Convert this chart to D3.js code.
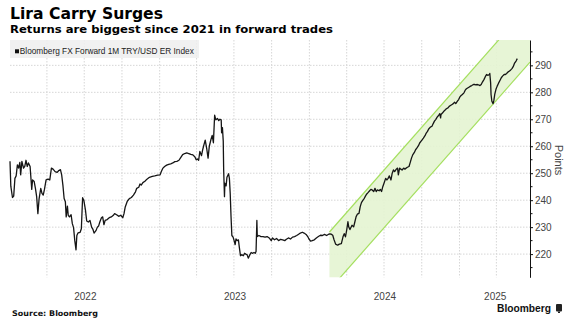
<!DOCTYPE html>
<html><head><meta charset="utf-8">
<script src="https://cdn.jsdelivr.net/npm/d3@7"></script>
<style>body{margin:0;background:#fff} svg{display:block}</style>
</head><body><svg id="c" width="577" height="327"></svg>
<script>
const title = "Lira Carry Surges";
const subtitle = "Returns are biggest since 2021 in forward trades";
const legendLabel = "Bloomberg FX Forward 1M TRY/USD ER Index";
const sourceText = "Source: Bloomberg";
const brandText = "Bloomberg";
const yAxisTitle = "Points";
const yTicks = [220, 230, 240, 250, 260, 270, 280, 290];
const yMinorTicks = [215, 225, 235, 245, 255, 265, 275, 285, 295];
const yearLabels = ["2022", "2023", "2024", "2025"];
const xDomain = ["2022-01-01", "2025-06-22"];
const yDomain = [211.4, 299.4];
const channelDates = ["2024-02-19", "2025-06-22"];
const channelUpper = [228.2, 312.6];
const channelLower = [206.8, 291.2];

const dates = [
"2022-01-01","2022-01-03","2022-01-07","2022-01-10","2022-01-13","2022-01-16","2022-01-19","2022-01-22","2022-01-25","2022-01-27",
"2022-01-30","2022-02-03","2022-02-06","2022-02-09","2022-02-12","2022-02-15","2022-02-19","2022-02-23","2022-02-25","2022-03-01",
"2022-03-04","2022-03-07","2022-03-10","2022-03-13","2022-03-17","2022-03-20","2022-03-23","2022-03-26","2022-03-30","2022-04-04",
"2022-04-08","2022-04-12","2022-04-16","2022-04-21","2022-04-26","2022-04-30","2022-05-04","2022-05-07","2022-05-10","2022-05-13",
"2022-05-16","2022-05-18","2022-05-21","2022-05-23","2022-05-26","2022-05-30","2022-06-02","2022-06-05","2022-06-08","2022-06-11",
"2022-06-13","2022-06-16","2022-06-21","2022-06-24","2022-06-27","2022-06-30","2022-07-04","2022-07-07","2022-07-11","2022-07-15",
"2022-07-19","2022-07-22","2022-07-25","2022-07-30","2022-08-02","2022-08-05","2022-08-08","2022-08-12","2022-08-15","2022-08-18",
"2022-08-21","2022-08-26","2022-08-31","2022-09-05","2022-09-10","2022-09-13",
"2022-09-18","2022-09-23","2022-09-28","2022-10-03","2022-10-06","2022-10-09","2022-10-14","2022-10-19","2022-10-24","2022-10-29",
"2022-11-03","2022-11-06","2022-11-11","2022-11-14","2022-11-17","2022-11-21","2022-11-26","2022-12-01","2022-12-07","2022-12-14",
"2022-12-20","2022-12-27","2023-01-02","2023-01-05","2023-01-09","2023-01-13","2023-01-18","2023-01-23","2023-01-28","2023-02-02",
"2023-02-07","2023-02-12","2023-02-17","2023-02-22","2023-02-26","2023-03-03","2023-03-08","2023-03-13","2023-03-18","2023-03-23",
"2023-03-28","2023-03-31","2023-04-03","2023-04-06","2023-04-09","2023-04-13","2023-04-16","2023-04-19","2023-04-22","2023-04-26",
"2023-04-29","2023-05-02","2023-05-06","2023-05-09","2023-05-12","2023-05-15","2023-05-18","2023-05-22","2023-05-25",
"2023-05-28","2023-05-31","2023-06-01","2023-06-03","2023-06-05","2023-06-06","2023-06-08","2023-06-09","2023-06-12","2023-06-14",
"2023-06-18","2023-06-20","2023-06-22","2023-06-24","2023-06-26","2023-06-29","2023-07-01","2023-07-04","2023-07-06","2023-07-09",
"2023-07-12","2023-07-14","2023-07-17","2023-07-20","2023-07-24","2023-07-27","2023-07-30","2023-08-02","2023-08-05","2023-08-09",
"2023-08-12","2023-08-15","2023-08-19","2023-08-22","2023-08-24","2023-08-26","2023-08-27","2023-08-31","2023-09-05","2023-09-10",
"2023-09-15","2023-09-20","2023-09-25","2023-09-30","2023-10-03","2023-10-08","2023-10-13","2023-10-18","2023-10-23","2023-10-28",
"2023-11-02","2023-11-06","2023-11-11","2023-11-16","2023-11-21","2023-11-26","2023-12-01","2023-12-05","2023-12-10","2023-12-15",
"2023-12-19","2023-12-24","2023-12-28","2023-12-31","2024-01-04","2024-01-08","2024-01-13","2024-01-18","2024-01-23","2024-01-28",
"2024-02-02","2024-02-07","2024-02-12","2024-02-16","2024-02-20",
"2024-02-23","2024-02-27","2024-03-01","2024-03-05","2024-03-10","2024-03-14","2024-03-19","2024-03-23","2024-03-26","2024-03-29",
"2024-04-01","2024-04-04","2024-04-06","2024-04-09","2024-04-14","2024-04-18","2024-04-21","2024-04-24","2024-04-27","2024-05-01",
"2024-05-04","2024-05-07","2024-05-10","2024-05-14","2024-05-17","2024-05-20","2024-05-23","2024-05-27","2024-05-30","2024-06-02",
"2024-06-06","2024-06-09","2024-06-12","2024-06-15","2024-06-19","2024-06-22","2024-06-25","2024-06-28","2024-07-01","2024-07-05",
"2024-07-08","2024-07-11","2024-07-14","2024-07-18","2024-07-21","2024-07-24","2024-07-27","2024-07-31","2024-08-03","2024-08-05",
"2024-08-08","2024-08-11","2024-08-14","2024-08-18","2024-08-21","2024-08-24","2024-08-27","2024-08-31","2024-09-03","2024-09-06",
"2024-09-09","2024-09-13","2024-09-16","2024-09-19","2024-09-23","2024-09-26","2024-09-29","2024-10-02","2024-10-05","2024-10-09",
"2024-10-12","2024-10-15","2024-10-18","2024-10-22",
"2024-10-26","2024-10-29","2024-11-01","2024-11-04","2024-11-08","2024-11-11","2024-11-14","2024-11-16","2024-11-17","2024-11-21",
"2024-11-24","2024-11-27","2024-11-30","2024-12-04","2024-12-07","2024-12-10","2024-12-14","2024-12-17","2024-12-20","2024-12-23",
"2024-12-27","2024-12-30","2025-01-02","2025-01-05","2025-01-08","2025-01-12","2025-01-15","2025-01-18","2025-01-22","2025-01-25",
"2025-01-28","2025-01-31","2025-02-04","2025-02-07","2025-02-10","2025-02-13","2025-02-16","2025-02-20","2025-02-23","2025-02-26",
"2025-03-02","2025-03-05","2025-03-08","2025-03-11","2025-03-15","2025-03-16","2025-03-18","2025-03-19","2025-03-21","2025-03-24",
"2025-03-26","2025-03-28","2025-03-31","2025-04-03","2025-04-06","2025-04-10","2025-04-13","2025-04-16","2025-04-20","2025-04-23",
"2025-04-26","2025-04-29","2025-05-03","2025-05-06","2025-05-09","2025-05-12","2025-05-15","2025-05-19","2025-05-22"
];
const values = [
254.4,245.2,241,241.5,248.1,249,253.1,251.9,254,249.4,
254.4,251.9,252.5,254.8,252.5,253.8,252.5,244,247.5,246.9,
244.4,241.3,235,240.6,244.4,242.5,241.9,244,247.5,247.8,
247.5,251.9,251.5,250.6,250.3,251,251.3,249.4,245.6,240.6,
239.4,233.8,237.8,234.4,233.8,234.6,231.3,229.8,225,221.6,
226.9,227.9,228.1,229.4,240.9,240,236.3,232.3,231.9,232.5,
230,229.3,227.8,228.8,230,230.4,231.9,233.5,233.8,230.9,
232.5,232.8,233.5,233.8,234.4,235,
234.6,234,234.4,233.5,235,237.5,239.6,240.6,241,241.9,
243.1,244.4,244.8,246,245.6,246.5,247,247.8,248.5,248.8,
249,249.3,249.4,250.6,251.9,252.5,253,253.3,253.5,253.8,
254.3,254.4,254.8,256,256.9,257.3,257.5,257.3,257,256.8,
256,255,255.3,254.8,258.1,256.5,258.8,260.6,262.3,258.8,
255.6,260,262.5,264,261.3,271.5,269.8,270.3,269.5,
270,269.8,265,266.9,261.9,251.3,241.3,246.3,245.3,248.5,
249.8,248.1,242.5,233.8,226.9,226.3,225.3,223.5,225.6,225,
225.3,222.8,219.4,219.8,219.4,220.3,220,219.8,218.5,219.8,
220.6,220.3,220.6,220.3,221,232.5,226.5,226.9,226.5,226.5,
226.3,226.5,226,225,226,225.3,225.8,225,225.5,225.3,
225,225.5,226,225.6,226.3,226.5,226.9,227.3,227.8,228.1,
227.8,227.3,226.5,225.6,224.8,225,225.3,226,226.5,227,
226.9,227.3,226.9,227.3,227.5,
227.4,227,225.4,223.7,223.3,223.7,223.9,226.4,227.6,226.4,
228.9,232,230.1,229.1,230.7,230.1,232,233.9,234.8,235.1,
237.6,239.1,239.8,240.7,241.6,242.3,242.8,243.5,244,243.8,
243.2,244.4,243.2,243.8,243.5,244,243.2,245,246.3,248.1,
247.5,248.1,249,247.5,250,251.2,250.6,251.5,251.9,249.4,
251.9,251.5,251.2,251.9,251.5,251.9,252.2,252.5,254,255.6,
256.8,257.7,258.7,259.3,260.2,261.2,261.8,262.4,263,263.9,
264.9,265.5,266.4,267.1,
267.4,268.4,269.3,269.9,270.9,271.4,272.1,270.5,271.8,272.4,
273,273.4,273.9,274.2,274.8,275.1,275.5,275.8,276.3,275.8,
276.7,277.3,278.3,278.8,279.2,279.8,280.8,281.3,281.7,282,
282.3,282.5,282.9,282.9,282.8,282.9,282.8,282.5,282.9,283.8,
284.8,285.8,286.6,286.3,286.6,287,283.5,279.2,276.7,275.8,
277.1,279.2,281.1,282.3,283.3,284.5,285.4,286,286.6,286.6,
287,287.5,287.9,288.3,288.8,289.5,290.7,291.6,292.5
];

const parse = d3.utcParse("%Y-%m-%d");
const W = 577, H = 327;
const L = 10, R = 530, T = 40, B = 277.3;

const svg = d3.select("#c");
const x = d3.scaleUtc().domain(xDomain.map(parse)).range([L, R]);
const y = d3.scaleLinear().domain(yDomain).range([B, T]);

svg.append("defs").append("clipPath").attr("id", "plotclip")
  .append("rect").attr("x", L).attr("y", T).attr("width", R - L).attr("height", B - T);

// gridlines
const grid = svg.append("g");
const quarters = d3.utcMonth.every(3).range(d3.utcDay.offset(x.domain()[0], 1), x.domain()[1]);
grid.selectAll("line.v").data(quarters).join("line")
  .attr("x1", d => x(d)).attr("x2", d => x(d)).attr("y1", T).attr("y2", B)
  .attr("stroke", "#d6d6d6").attr("stroke-width", 1).attr("stroke-dasharray", "1.5,1.5");
grid.selectAll("line.h").data(yTicks).join("line")
  .attr("x1", L).attr("x2", R).attr("y1", d => y(d)).attr("y2", d => y(d))
  .attr("stroke", "#d6d6d6").attr("stroke-width", 1).attr("stroke-dasharray", "1.5,1.5");

// channel
const ch = channelDates.map((d, i) => ({ d: parse(d), u: channelUpper[i], l: channelLower[i] }));
const cg = svg.append("g").attr("clip-path", "url(#plotclip)");
cg.append("path").datum(ch)
  .attr("d", d3.area().x(d => x(d.d)).y0(d => y(d.l)).y1(d => y(d.u)))
  .attr("fill", "#e4f4d2").attr("fill-opacity", 0.9);
cg.append("path").datum(ch).attr("d", d3.line().x(d => x(d.d)).y(d => y(d.u)))
  .attr("fill", "none").attr("stroke", "#a4df5e").attr("stroke-width", 1.2);
cg.append("path").datum(ch).attr("d", d3.line().x(d => x(d.d)).y(d => y(d.l)))
  .attr("fill", "none").attr("stroke", "#a4df5e").attr("stroke-width", 1.2);

// legend
svg.append("rect").attr("x", 10).attr("y", 40).attr("width", 189).attr("height", 18)
  .attr("fill", "#efefef").attr("fill-opacity", 0.85);
svg.append("rect").attr("x", 15).attr("y", 49.3).attr("width", 4).attr("height", 4).attr("fill", "#111");
svg.append("text").attr("x", 19.8).attr("y", 53.8).text(legendLabel)
  .attr("font-family", "'Liberation Sans Narrow','Liberation Sans',sans-serif").attr("font-size", 9.2)
  .attr("fill", "#222").attr("textLength", 174).attr("lengthAdjust", "spacingAndGlyphs");

// line
const pts = dates.map((d, i) => ({ d: parse(d), v: values[i] }));
svg.append("path").datum(pts)
  .attr("d", d3.line().x(d => x(d.d)).y(d => y(d.v)))
  .attr("fill", "none").attr("stroke", "#151515").attr("stroke-width", 1.3).attr("stroke-linejoin", "round");

// right axis
const ax = svg.append("g").attr("transform", `translate(${R},0)`)
  .call(d3.axisRight(y).tickValues(yTicks).tickSize(3).tickSizeOuter(0).tickPadding(2));
ax.select(".domain").attr("stroke", "#111");
ax.selectAll(".tick line").attr("stroke", "#111");
ax.selectAll(".tick text").attr("font-family", "'Liberation Sans',sans-serif").attr("font-size", 10).attr("fill", "#444");
svg.append("g").selectAll("line").data(yMinorTicks).join("line")
  .attr("x1", R).attr("x2", R + 2.5).attr("y1", d => y(d)).attr("y2", d => y(d)).attr("stroke", "#111");
svg.append("text").attr("transform", `translate(558,160) rotate(90)`)
  .attr("text-anchor", "middle").attr("dominant-baseline", "middle")
  .attr("font-family", "'Liberation Sans',sans-serif").attr("font-size", 11).attr("fill", "#444").text(yAxisTitle);

// year labels
const [d0, d1] = x.domain();
const yearMids = yearLabels.map(yl => {
  const s = new Date(Math.max(Date.UTC(+yl, 0, 1), d0));
  const e = new Date(Math.min(Date.UTC(+yl + 1, 0, 1), d1));
  return new Date((+s + +e) / 2);
});
const xa = svg.append("g").attr("transform", `translate(0,${B})`)
  .call(d3.axisBottom(x).tickValues(yearMids).tickSize(0).tickPadding(16).tickFormat((d, i) => yearLabels[i]));
xa.select(".domain").remove();
xa.selectAll(".tick text").attr("font-family", "'Liberation Sans',sans-serif").attr("font-size", 10).attr("fill", "#444");

// titles
svg.append("text").attr("x", 10).attr("y", 18.6).text(title)
  .attr("font-family", "'DejaVu Sans',sans-serif").attr("font-weight", "bold").attr("font-size", 15.5)
  .attr("fill", "#000").attr("textLength", 153).attr("lengthAdjust", "spacingAndGlyphs");
svg.append("text").attr("x", 10).attr("y", 33.3).text(subtitle)
  .attr("font-family", "'DejaVu Sans',sans-serif").attr("font-weight", "bold").attr("font-size", 10.5)
  .attr("fill", "#000").attr("textLength", 323).attr("lengthAdjust", "spacingAndGlyphs");

// footer
svg.append("text").attr("x", 12).attr("y", 315.8).text(sourceText)
  .attr("font-family", "'DejaVu Sans',sans-serif").attr("font-weight", "bold").attr("font-size", 7.8)
  .attr("fill", "#111").attr("textLength", 86).attr("lengthAdjust", "spacingAndGlyphs");
svg.append("text").attr("x", 497).attr("y", 311.7).text(brandText)
  .attr("font-family", "'Liberation Sans',sans-serif").attr("font-weight", "bold").attr("font-size", 10.5)
  .attr("fill", "#111").attr("textLength", 54).attr("lengthAdjust", "spacingAndGlyphs");
svg.append("rect").attr("x", 556).attr("y", 304).attr("width", 6).attr("height", 7.5).attr("rx", 1).attr("fill", "#222");
svg.append("rect").attr("x", 558).attr("y", 311.5).attr("width", 2).attr("height", 1.5).attr("fill", "#222");
</script></body></html>
